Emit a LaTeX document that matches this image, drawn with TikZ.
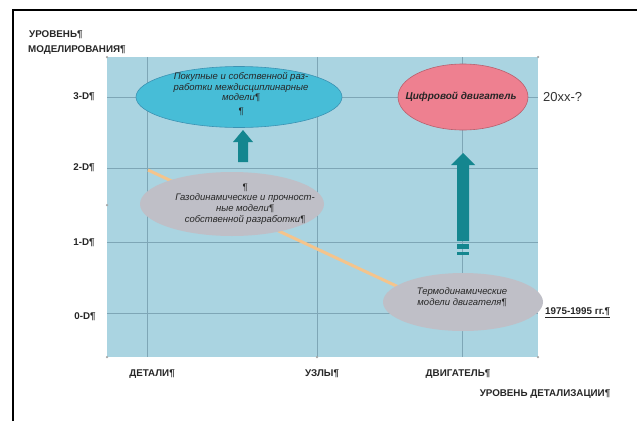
\documentclass[tikz,border=0pt]{standalone}
\usepackage{fontspec}
\setmainfont{Liberation Sans}
\usetikzlibrary{shapes.geometric,calc}
\definecolor{plotbg}{HTML}{AAD4E1}
\definecolor{gridc}{HTML}{7EA6B6}
\definecolor{bluee}{HTML}{47BDD7}
\definecolor{bluel}{HTML}{3C93B3}
\definecolor{rede}{HTML}{EE8090}
\definecolor{redl}{HTML}{B8606E}
\definecolor{graye}{HTML}{BFBFC7}
\definecolor{tealc}{HTML}{14868F}
\definecolor{orangec}{HTML}{F4C48C}
\tikzset{
  axlbl/.style={font=\fontsize{9.8}{11}\selectfont\bfseries, inner sep=0pt, text=black!85},
  ell/.style={ellipse, inner sep=0pt},
  elltxt/.style={font=\fontsize{9.5}{10.6}\selectfont\itshape, align=center, inner sep=0pt, text=black!85},
  gridln/.style={draw=gridc, line width=0.8pt},
  handle/.style={fill=gray!70, circle, inner sep=0pt, minimum size=2.5pt}
}
\begin{document}
\begin{tikzpicture}[x=1pt,y=-1pt]
\useasboundingbox (0,0) rectangle (637,421);
% frame
\draw[line width=2pt, black] (13,421) -- (13,10) -- (637,10);
% plot area
\fill[plotbg] (107,57) rectangle (538,357);
\foreach \yy in {97,168,242,313} \draw[gridln] (107,\yy) -- (538,\yy);
\foreach \xx in {147,317,462} \draw[gridln] (\xx,57) -- (\xx,357);
% handles
\foreach \p in {(107,57),(107,205),(107,357),(317,357),(538,357),(538,57)} \node[handle] at \p {};
% orange trend line
\coordinate (ostart) at (148,170);
\coordinate (oend) at (420,297);
\draw[orangec, line width=3pt] (ostart) -- (oend);
% ellipses
\node[ell, fill=bluee, draw=bluel, line width=0.6pt, minimum width=206pt, minimum height=61pt] (blue) at (239,97) {};
\node[ell, fill=rede, draw=redl, line width=0.6pt, minimum width=130pt, minimum height=66pt] (red) at (463,97) {};
\node[ell, fill=graye, minimum width=184pt, minimum height=64pt] (gmid) at (232,204) {};
\node[ell, fill=graye, minimum width=160pt, minimum height=58pt] (gbot) at (463,302) {};
% ellipse texts
\node[elltxt] (bluet) at (241,94) {Покупные и собственной раз-\\работки междисциплинарные\\модели¶\\[3pt]¶};
\node[elltxt, font=\fontsize{10}{11}\selectfont\bfseries\itshape] (redt) at (461,97) {Цифровой двигатель};
\node[elltxt] (gmidt) at (245,204) {¶\\Газодинамические и прочност-\\ные модели¶\\собственной разработки¶};
\node[elltxt] (gbott) at (462,297) {Термодинамические\\модели двигателя¶};
% block arrows
\coordinate (s1) at (243,162);
\coordinate (e1) at (243,130);
\fill[tealc] ($(s1)+(-5,0)$) -- ($(e1)+(-5,12)$) -- ($(e1)+(-10,12)$) -- (e1) -- ($(e1)+(10,12)$) -- ($(e1)+(5,12)$) -- ($(s1)+(5,0)$) -- cycle;
\coordinate (s2) at (463,241);
\coordinate (e2) at (463,153);
\fill[tealc] ($(s2)+(-6,0)$) -- ($(e2)+(-6,12)$) -- ($(e2)+(-12,12)$) -- (e2) -- ($(e2)+(12,12)$) -- ($(e2)+(6,12)$) -- ($(s2)+(6,0)$) -- cycle;
\fill[tealc] ($(s2)+(-6,3)$) rectangle ($(s2)+(6,8)$);
\fill[tealc] ($(s2)+(-6,11)$) rectangle ($(s2)+(6,14)$);
% axis labels
\node[axlbl, anchor=west] (ylab1) at (29,35) {УРОВЕНЬ¶};
\node[axlbl, anchor=west] (ylab2) at (28,50) {МОДЕЛИРОВАНИЯ¶};
\node[axlbl] (d3) at (84,97) {3-D¶};
\node[axlbl] (d2) at (84,168) {2-D¶};
\node[axlbl] (d1) at (84,243) {1-D¶};
\node[axlbl] (d0) at (85,317) {0-D¶};
\node[axlbl] (x1) at (152,374) {ДЕТАЛИ¶};
\node[axlbl] (x2) at (322,374) {УЗЛЫ¶};
\node[axlbl] (x3) at (458,374) {ДВИГАТЕЛЬ¶};
\node[axlbl] (xlab) at (545,394) {УРОВЕНЬ ДЕТАЛИЗАЦИИ¶};
% side texts
\node[inner sep=0pt, anchor=west, font=\fontsize{13}{15}\selectfont, text=black!80] (yr1) at (543,97) {20хх-?};
\node[axlbl, anchor=west] (yr2) at (545,313) {\underline{1975-1995 гг.¶}};
\end{tikzpicture}
\end{document}
